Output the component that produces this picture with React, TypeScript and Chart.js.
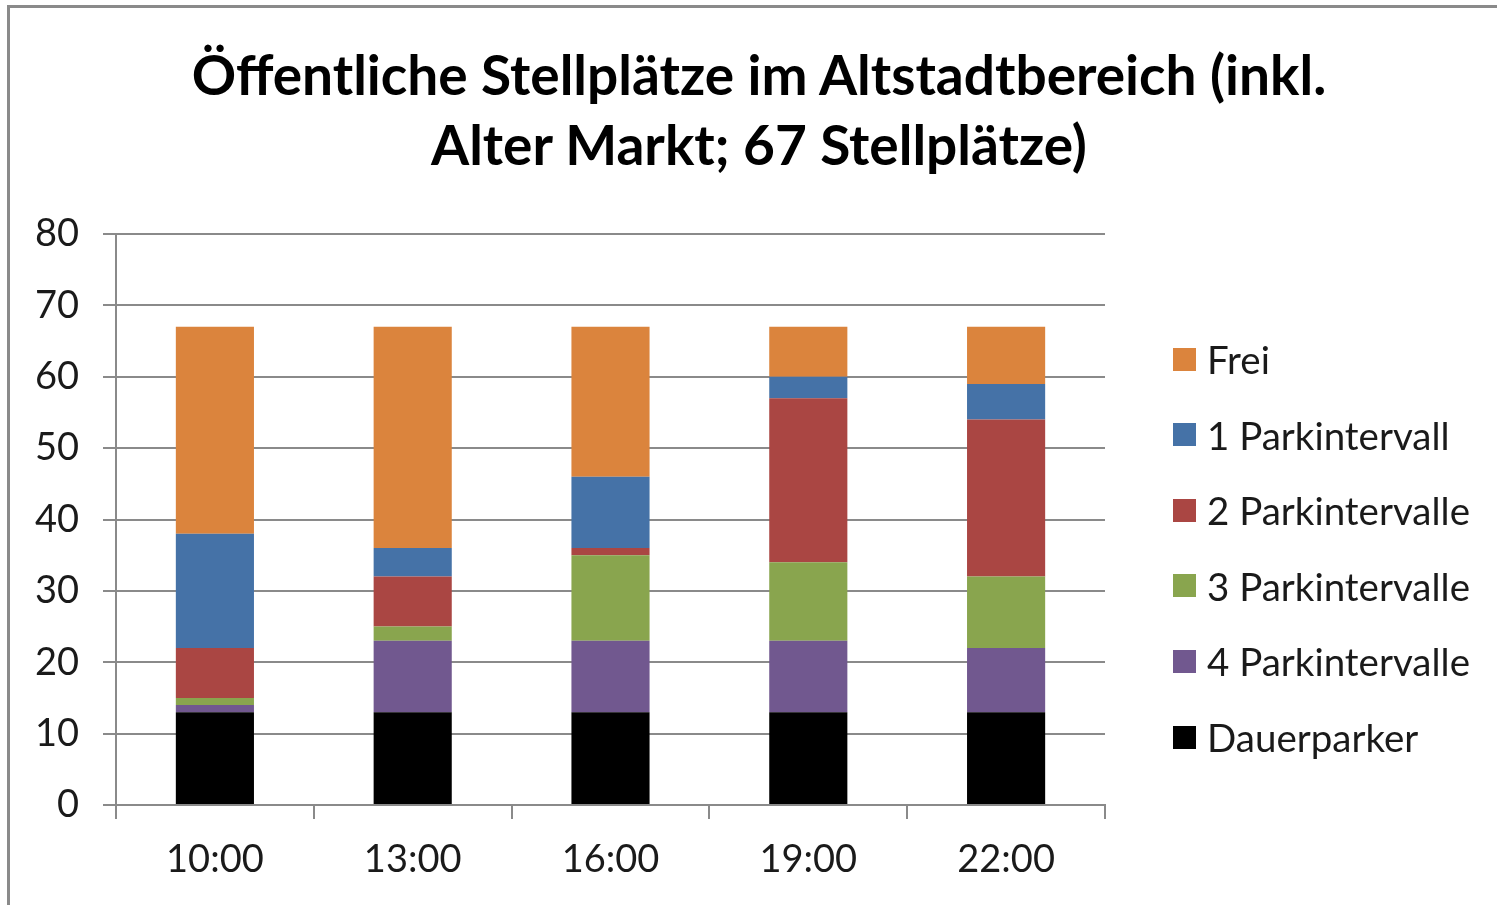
import React, { useEffect, useRef } from "react";
import { Chart, registerables } from "chart.js";
Chart.register(...registerables);

const titleLines = ["Öffentliche Stellplätze im Altstadtbereich (inkl.", "Alter Markt; 67 Stellplätze)"];
const categories = ["10:00", "13:00", "16:00", "19:00", "22:00"];
const seriesNames = ["Dauerparker", "4 Parkintervalle", "3 Parkintervalle", "2 Parkintervalle", "1 Parkintervall", "Frei"];
const seriesColors = ["#000000", "#71588F", "#89A54E", "#AA4643", "#4572A7", "#DB843D"];
const dauerparker = [13, 13, 13, 13, 13];
const vierIntervalle = [1, 10, 10, 10, 9];
const dreiIntervalle = [1, 2, 12, 11, 10];
const zweiIntervalle = [7, 7, 1, 23, 22];
const einIntervall = [16, 4, 10, 3, 5];
const frei = [29, 31, 21, 7, 8];
const seriesValues = [dauerparker, vierIntervalle, dreiIntervalle, zweiIntervalle, einIntervall, frei];
const yMin = 0;
const yMax = 80;
const yStep = 10;

const FONT = "Lato, 'Open Sans', sans-serif";
const GRID = "#8a8a8a";

export default function App() {
  const ref = useRef<HTMLCanvasElement | null>(null);
  useEffect(() => {
    if (!ref.current) return;
    const chart = new Chart(ref.current, {
      type: "bar",
      data: {
        labels: categories,
        datasets: seriesNames.map((name, i) => ({
          label: name,
          data: seriesValues[i],
          backgroundColor: seriesColors[i],
          borderWidth: 0,
          barPercentage: 1,
          categoryPercentage: 0.395,
        })),
      },
      options: {
        responsive: false,
        animation: false,
        layout: { padding: { top: 234, left: 0, right: 392, bottom: 0 } },
        plugins: { legend: { display: false }, title: { display: false }, tooltip: { enabled: false } },
        scales: {
          x: {
            stacked: true,
            grid: { display: true, offset: true, drawOnChartArea: false, color: GRID, lineWidth: 2, tickLength: 14 },
            border: { display: true, color: GRID, width: 2 },
            ticks: { font: { family: FONT, size: 38 }, color: "#1a1a1a", padding: 18 },
            afterFit: (s: any) => { s.height = 100; },
          },
          y: {
            stacked: true,
            min: yMin,
            max: yMax,
            ticks: { stepSize: yStep, font: { family: FONT, size: 38 }, color: "#1a1a1a", padding: 24 },
            grid: { color: GRID, lineWidth: 2, tickLength: 13 },
            border: { display: true, color: GRID, width: 2 },
            afterFit: (s: any) => { s.width = 116; },
          },
        },
      },
    });
    return () => chart.destroy();
  }, []);

  return (
    <div style={{ position: "absolute", left: 0, top: 0, width: 1497, height: 905, overflow: "hidden", background: "#fff" }}>
      <div style={{ position: "absolute", left: 7, top: 5, width: 1600, height: 1000, border: "3px solid #8a8a8a" }} />
      <canvas ref={ref} width={1497} height={905} style={{ position: "absolute", left: 0, top: 0 }} />
      {titleLines.map((t, i) => (
        <div key={i} style={{ position: "absolute", left: 0, width: 1518, top: 39 + i * 70, height: 70, lineHeight: "70px", textAlign: "center", fontFamily: FONT, fontWeight: 700, fontSize: 55, color: "#000", whiteSpace: "nowrap" }}>{t}</div>
      ))}
      {seriesNames.slice().reverse().map((name, i) => {
        const color = seriesColors[seriesNames.length - 1 - i];
        return (
          <div key={name} style={{ position: "absolute", left: 1173, top: 359 + i * 75.6 - 25, height: 50, display: "flex", alignItems: "center", fontFamily: FONT, fontSize: 38.5, color: "#1a1a1a", whiteSpace: "nowrap" }}>
            <span style={{ display: "inline-block", width: 23, height: 23, background: color, marginRight: 11 }} />
            {name}
          </div>
        );
      })}
    </div>
  );
}
